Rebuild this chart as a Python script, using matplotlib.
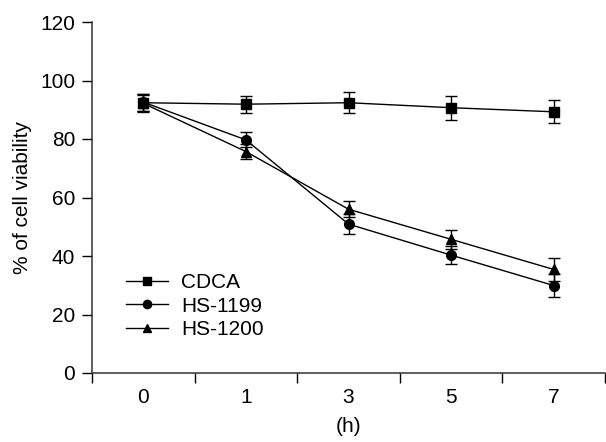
import matplotlib
matplotlib.use("Agg")
import matplotlib.pyplot as plt
import numpy as np

plt.rcParams['font.family'] = ['Liberation Sans', 'DejaVu Sans']

hours = ['0', '1', '3', '5', '7']
cdca = [92.4, 91.9, 92.4, 90.7, 89.3]
cdca_err = [2.9, 2.9, 3.5, 4.1, 3.9]
hs1199 = [92.6, 79.7, 50.9, 40.3, 29.9]
hs1199_err = [2.9, 2.6, 3.4, 3.0, 3.9]
hs1200 = [92.2, 75.7, 56.0, 45.7, 35.4]
hs1200_err = [2.9, 2.6, 2.8, 3.2, 3.8]

fig = plt.figure(figsize=(6.06, 4.42), dpi=100)
ax = fig.add_axes([92/606, 69/442, 513/606, 351/442])

x = np.arange(len(hours))
kw = dict(color='black', lw=1.0, capsize=4.5, elinewidth=1.0, capthick=1.0)
ax.errorbar(x, cdca, yerr=cdca_err, marker='s', ms=6.5, label='CDCA', **kw)
ax.errorbar(x, hs1199, yerr=hs1199_err, marker='o', ms=7, label='HS-1199', **kw)
ax.errorbar(x, hs1200, yerr=hs1200_err, marker='^', ms=7.5, label='HS-1200', **kw)

ax.set_xlim(-0.5, len(hours) - 0.5)
ax.set_ylim(0, 120)
ax.set_yticks(np.arange(0, 121, 20))

ax.set_xticks(np.arange(-0.5, len(hours)), labels=[])
ax.set_xticks(x, labels=hours, minor=True)
ax.tick_params(axis='x', which='minor', length=0, pad=11, labelsize=15)
ax.tick_params(axis='x', which='major', length=7, width=1.0, direction='out')
ax.tick_params(axis='y', length=7, width=1.0, direction='out', pad=5, labelsize=15)

for s in ['top', 'right']:
    ax.spines[s].set_visible(False)
for s in ['left', 'bottom']:
    ax.spines[s].set_linewidth(1.1)
    ax.spines[s].set_color('#333333')

ax.set_xlabel('(h)', fontsize=15, labelpad=7)
ax.set_ylabel('% of cell viability', fontsize=15, labelpad=6)

handles, labels = ax.get_legend_handles_labels()
handles = [h[0] for h in handles]
ax.legend(handles, labels, loc='upper left', bbox_to_anchor=(126/606, 1 - 273/442),
          bbox_transform=fig.transFigure, frameon=False, fontsize=15,
          handlelength=2.0, handletextpad=0.65, labelspacing=0.22, borderpad=0,
          borderaxespad=0, markerscale=0.85)

fig.savefig('out.png', dpi=100)
